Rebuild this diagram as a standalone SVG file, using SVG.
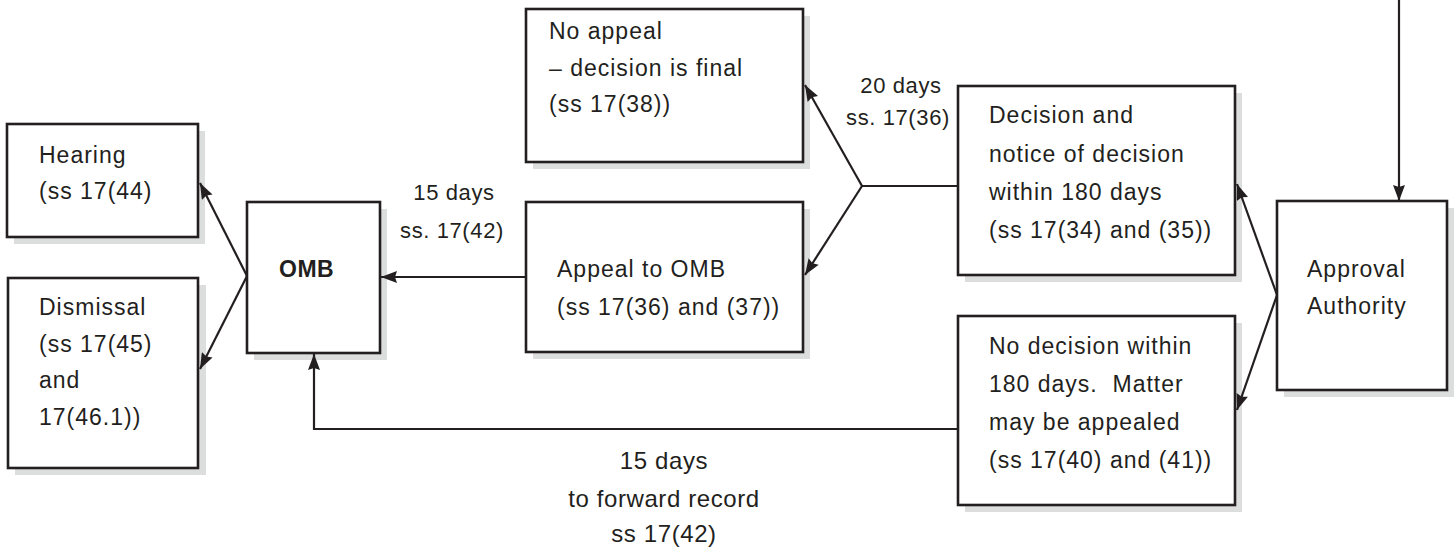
<svg xmlns="http://www.w3.org/2000/svg" width="1456" height="550" viewBox="0 0 1456 550">
<style>
.box{fill:#fff;stroke:#231f20;stroke-width:2.6}
.sh{fill:#dcdddd}
.t{font-family:"Liberation Sans",Arial,sans-serif;font-size:23px;letter-spacing:1px;fill:#231f20}
.b{font-weight:bold;letter-spacing:0.5px}
.lb{font-family:"Liberation Sans",Arial,sans-serif;font-size:22px;letter-spacing:0.6px;fill:#231f20;text-anchor:middle}
.lb2{font-family:"Liberation Sans",Arial,sans-serif;font-size:24px;letter-spacing:0.6px;fill:#231f20;text-anchor:middle}
.c{fill:none;stroke:#231f20;stroke-width:2.2}
.pre{white-space:pre}
</style>
<defs>
<marker id="ah" viewBox="0 0 16 12" refX="16" refY="6" markerWidth="17" markerHeight="12" markerUnits="userSpaceOnUse" orient="auto">
<path d="M0,0 L16,6 L0,12 L2,6 z" fill="#231f20"/>
</marker>
</defs>
<rect width="1456" height="550" fill="#fff"/>

<g id="hearing">
<rect class="sh" x="14" y="131" width="191" height="113"/>
<rect class="box" x="7" y="124" width="191" height="113"/>
<text class="t" x="39" y="163">Hearing</text>
<text class="t" x="39" y="199">(ss 17(44)</text>
</g>

<g id="dismissal">
<rect class="sh" x="15" y="285" width="191" height="190"/>
<rect class="box" x="8" y="278" width="190" height="190"/>
<text class="t" x="39" y="315">Dismissal</text>
<text class="t" x="39" y="352">(ss 17(45)</text>
<text class="t" x="39" y="388">and</text>
<text class="t" x="39" y="425">17(46.1))</text>
</g>

<g id="omb">
<rect class="sh" x="254" y="209" width="133" height="151"/>
<rect class="box" x="247" y="202" width="133" height="151"/>
<text class="t b" x="279" y="277">OMB</text>
</g>

<g id="noappeal">
<rect class="sh" x="533" y="16" width="277" height="153"/>
<rect class="box" x="526" y="9" width="277" height="153"/>
<text class="t" x="549" y="39">No appeal</text>
<text class="t" x="549" y="76">– decision is final</text>
<text class="t" x="549" y="112">(ss 17(38))</text>
</g>

<g id="appeal">
<rect class="sh" x="533" y="209" width="277" height="150"/>
<rect class="box" x="526" y="202" width="277" height="150"/>
<text class="t" x="557" y="277">Appeal to OMB</text>
<text class="t" x="557" y="315">(ss 17(36) and (37))</text>
</g>

<g id="decision">
<rect class="sh" x="965" y="93" width="277" height="189"/>
<rect class="box" x="958" y="86" width="277" height="189"/>
<text class="t" x="989" y="123">Decision and</text>
<text class="t" x="989" y="162">notice of decision</text>
<text class="t" x="989" y="200">within 180 days</text>
<text class="t" x="989" y="238">(ss 17(34) and (35))</text>
</g>

<g id="nodecision">
<rect class="sh" x="965" y="323" width="277" height="189"/>
<rect class="box" x="958" y="316" width="277" height="189"/>
<text class="t" x="989" y="354">No decision within</text>
<text class="t pre" x="989" y="392">180 days.  Matter</text>
<text class="t" x="989" y="430">may be appealed</text>
<text class="t" x="989" y="468">(ss 17(40) and (41))</text>
</g>

<g id="approval">
<rect class="sh" x="1284" y="208" width="170" height="189"/>
<rect class="box" x="1277" y="201" width="170" height="189"/>
<text class="t" x="1307" y="277">Approval</text>
<text class="t" x="1307" y="314">Authority</text>
</g>

<g id="connectors">
<line class="c" x1="1399" y1="0" x2="1399" y2="201" marker-end="url(#ah)"/>
<line class="c" x1="1277" y1="295" x2="1237" y2="184" marker-end="url(#ah)"/>
<line class="c" x1="1277" y1="295" x2="1237" y2="410" marker-end="url(#ah)"/>
<line class="c" x1="958" y1="186" x2="862" y2="186"/>
<line class="c" x1="862" y1="186" x2="805" y2="85" marker-end="url(#ah)"/>
<line class="c" x1="862" y1="186" x2="805" y2="275" marker-end="url(#ah)"/>
<line class="c" x1="526" y1="277" x2="381" y2="277" marker-end="url(#ah)"/>
<line class="c" x1="247" y1="276" x2="200" y2="183" marker-end="url(#ah)"/>
<line class="c" x1="247" y1="276" x2="200" y2="369" marker-end="url(#ah)"/>
<polyline class="c" points="958,429 314,429 314,354" marker-end="url(#ah)"/>
</g>

<g id="labels">
<text class="lb" x="901" y="93">20 days</text>
<text class="lb" x="898" y="125">ss. 17(36)</text>
<text class="lb" x="454" y="200">15 days</text>
<text class="lb" x="452" y="238">ss. 17(42)</text>
<text class="lb2" x="664" y="469">15 days</text>
<text class="lb2" x="664" y="507">to forward record</text>
<text class="lb2" x="664" y="542">ss 17(42)</text>
</g>
</svg>
